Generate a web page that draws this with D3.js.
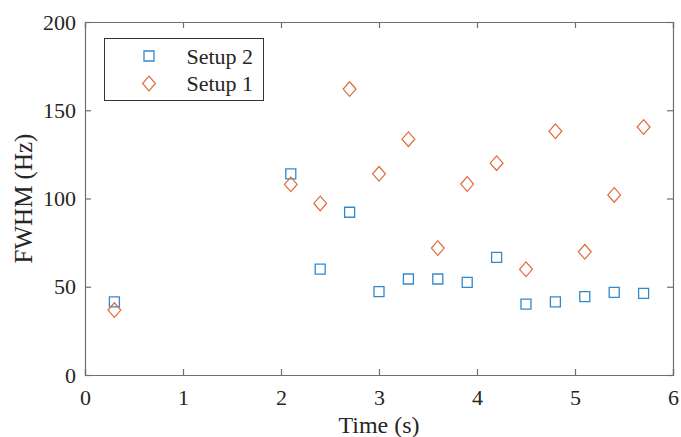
<!DOCTYPE html>
<html>
<head>
<meta charset="utf-8">
<script src="https://cdn.jsdelivr.net/npm/d3@7"></script>
<style>
  body { margin: 0; background: #fff; }
  svg text { font-family: "Liberation Serif", "Times New Roman", serif; fill: #262626; }
</style>
</head>
<body>
<div id="chart"></div>
<script>
const times = [0.3, 2.1, 2.4, 2.7, 3.0, 3.3, 3.6, 3.9, 4.2, 4.5, 4.8, 5.1, 5.4, 5.7];
const setup2 = [41.4, 114, 60, 92.2, 47.2, 54.4, 54.4, 52.5, 66.6, 40.2, 41.4, 44.4, 46.8, 46.3];
const setup1 = [36.8, 108, 97.2, 162, 114, 133.6, 71.9, 108.2, 120, 59.9, 138.1, 69.8, 102, 140.5];
const xTicks = [0, 1, 2, 3, 4, 5, 6];
const yTicks = [0, 50, 100, 150, 200];

const width = 681, height = 437;
const m = { left: 85, right: 8, top: 22, bottom: 62 };

const svg = d3.select("#chart")
  .append("svg")
  .attr("width", width)
  .attr("height", height);

const x = d3.scaleLinear().domain([0, 6]).range([m.left, width - m.right]);
const y = d3.scaleLinear().domain([0, 200]).range([height - m.bottom, m.top]);

const axisColor = "#6e6e6e";
const fs = 22;

// axes with inward ticks
const gx = svg.append("g")
  .attr("transform", `translate(0,${y(0)})`)
  .call(d3.axisBottom(x).tickValues(xTicks).tickSize(-6).tickPadding(14).tickFormat(d3.format("d")));
const gy = svg.append("g")
  .attr("transform", `translate(${x(0)},0)`)
  .call(d3.axisLeft(y).tickValues(yTicks).tickSize(-6).tickPadding(9).tickFormat(d3.format("d")));
const gxTop = svg.append("g")
  .attr("transform", `translate(0,${y(200)})`)
  .call(d3.axisTop(x).tickValues(xTicks).tickSize(-6).tickFormat(""));
const gyRight = svg.append("g")
  .attr("transform", `translate(${x(6)},0)`)
  .call(d3.axisRight(y).tickValues(yTicks).tickSize(-6).tickFormat(""));

[gx, gy, gxTop, gyRight].forEach(g => {
  g.select(".domain").attr("stroke", axisColor).attr("stroke-width", 1.2);
  g.selectAll(".tick line").attr("stroke", axisColor).attr("stroke-width", 1.2);
  g.selectAll(".tick text")
    .attr("fill", "#262626")
    .style("font-family", "'Liberation Serif', serif")
    .style("font-size", fs + "px");
});

// axis titles
svg.append("text")
  .attr("x", (x(0) + x(6)) / 2)
  .attr("y", 433)
  .attr("text-anchor", "middle")
  .style("font-size", "24px")
  .text("Time (s)");

svg.append("text")
  .attr("transform", `translate(32,${(y(0) + y(200)) / 2}) rotate(-90)`)
  .attr("text-anchor", "middle")
  .style("font-size", "25px")
  .text("FWHM (Hz)");

const blue = "#3289cb";
const orange = "#e06a3d";
const sq = d3.symbol().type(d3.symbolSquare).size(100);
const diamond = "M0,-7.3L6.4,0L0,7.3L-6.4,0Z";

// Setup 2 squares
svg.append("g")
  .selectAll("path")
  .data(times.map((t, i) => [t, setup2[i]]))
  .join("path")
  .attr("d", sq)
  .attr("transform", d => `translate(${x(d[0])},${y(d[1])})`)
  .attr("fill", "none")
  .attr("stroke", blue)
  .attr("stroke-width", 1.3);

// Setup 1 diamonds
svg.append("g")
  .selectAll("path")
  .data(times.map((t, i) => [t, setup1[i]]))
  .join("path")
  .attr("d", diamond)
  .attr("transform", d => `translate(${x(d[0])},${y(d[1])})`)
  .attr("fill", "none")
  .attr("stroke", orange)
  .attr("stroke-width", 1.2);

// Legend
const legend = svg.append("g").attr("transform", "translate(104.5,38.5)");
legend.append("rect")
  .attr("width", 159)
  .attr("height", 62)
  .attr("fill", "#fff")
  .attr("stroke", "#333")
  .attr("stroke-width", 1);

const items = [
  { label: "Setup 2", shape: sq(), color: blue, w: 1.3 },
  { label: "Setup 1", shape: diamond, color: orange, w: 1.2 }
];
items.forEach((it, i) => {
  const cy = 17.5 + i * 27.5;
  legend.append("path")
    .attr("d", it.shape)
    .attr("transform", `translate(44.5,${cy})`)
    .attr("fill", "none")
    .attr("stroke", it.color)
    .attr("stroke-width", it.w);
  legend.append("text")
    .attr("x", 82)
    .attr("y", cy + 7.5)
    .style("font-size", fs + "px")
    .text(it.label);
});
</script>
</body>
</html>
